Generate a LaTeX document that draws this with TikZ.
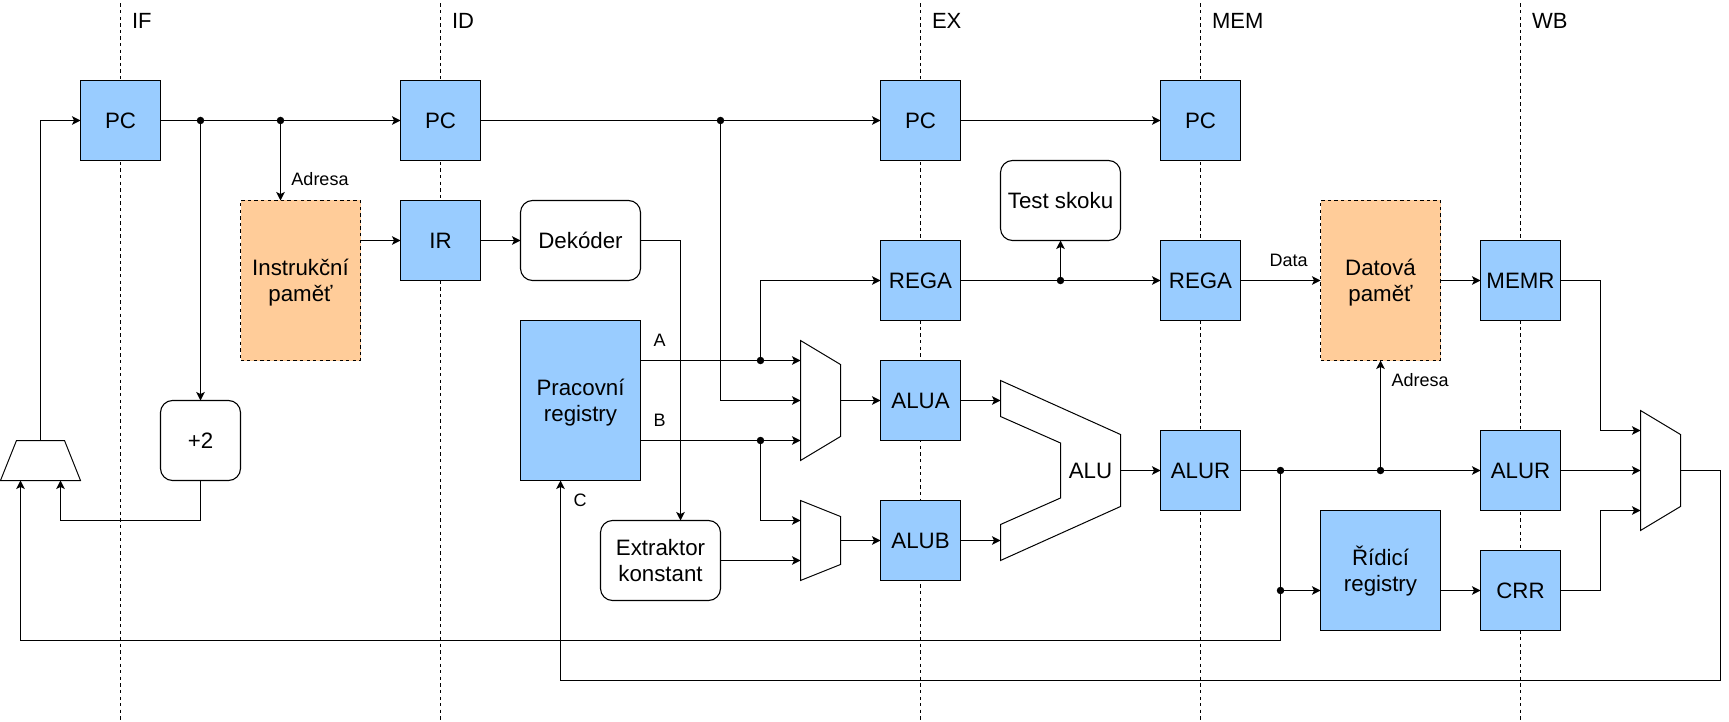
\documentclass[tikz,border=0pt]{standalone}
\usepackage{fontspec}
\setmainfont{Liberation Sans}
\usetikzlibrary{arrows.meta,calc}
\definecolor{regblue}{HTML}{99CCFF}
\definecolor{memorange}{HTML}{FFCC99}
\newcommand{\TwoL}[2]{\rule{0pt}{21.4pt}#1\\#2\rule[-6pt]{0pt}{6pt}}
\tikzset{
  basebox/.style={draw=black,line width=1.1pt,inner sep=0pt,outer sep=0pt,align=center,font=\fontsize{22.3}{26}\selectfont},
  one/.style={text height=16pt,text depth=0pt},
  reg/.style={basebox,one,fill=regblue,minimum width=80pt,minimum height=80pt},
  bigreg/.style={basebox,fill=regblue,minimum width=120pt},
  mem/.style={basebox,fill=memorange,dash pattern=on 3.3pt off 3.3pt,minimum width=120pt,minimum height=160pt},
  logic/.style={basebox,rounded corners=12pt,minimum height=80pt,fill=white},
  ghost/.style={inner sep=0pt,outer sep=0pt,align=center,font=\fontsize{22.3}{26}\selectfont,one},
  small/.style={inner sep=0pt,outer sep=0pt,font=\fontsize{18}{21}\selectfont,text height=13pt,text depth=0pt},
  stage/.style={inner sep=0pt,outer sep=0pt,font=\fontsize{22}{26}\selectfont,anchor=base west},
  dot/.style={circle,fill=black,draw=none,minimum size=7.5pt,inner sep=0pt,outer sep=0pt},
  wire/.style={line width=1.1pt,draw=black},
  arr/.style={wire,-{Stealth[length=8.5pt,width=8.5pt,inset=2pt]}},
  shapeline/.style={line width=1pt,draw=black},
  stageline/.style={line width=1pt,draw=black,dash pattern=on 3.3pt off 3.3pt},
}
\begin{document}
\begin{tikzpicture}[x=1pt,y=-1pt]
\useasboundingbox (-0.5,-0.5) rectangle (1728.5,721.5);
% stage lines
\foreach \n/\x in {if/120,id/440,ex/920,mem/1200,wb/1520}{
  \coordinate (\n T) at (\x,3);
  \coordinate (\n B) at (\x,722);
  \draw[stageline] (\n T) -- (\n B);
}
% stage labels
\node[stage] (lif) at (131.5,27.8) {IF};
\node[stage] (lid) at (451.5,27.8) {ID};
\node[stage] (lex) at (931.5,27.8) {EX};
\node[stage] (lmem) at (1211.5,27.8) {MEM};
\node[stage] (lwb) at (1531.5,27.8) {WB};
% registers
\node[reg] (pcA) at (120,120) {PC};
\node[reg] (pcB) at (440,120) {PC};
\node[reg] (pcC) at (920,120) {PC};
\node[reg] (pcD) at (1200,120) {PC};
\node[reg] (ir) at (440,240) {IR};
\node[reg] (regaA) at (920,280) {REGA};
\node[reg] (alua) at (920,400) {ALUA};
\node[reg] (alub) at (920,540) {ALUB};
\node[reg] (regaB) at (1200,280) {REGA};
\node[reg] (alurA) at (1200,470) {ALUR};
\node[reg] (memr) at (1520,280) {MEMR};
\node[reg] (alurB) at (1520,470) {ALUR};
\node[reg] (crr) at (1520,590) {CRR};
\node[bigreg,minimum height=160pt] (prac) at (580,400) {\TwoL{Pracovní}{registry}};
\node[bigreg,minimum height=120pt] (ridi) at (1380,570) {\TwoL{Řídicí}{registry}};
% memories
\node[mem] (imem) at (300,280) {\TwoL{Instrukční}{paměť}};
\node[mem] (dmem) at (1380,280) {\TwoL{Datová}{paměť}};
% logic
\node[logic,one,minimum width=80pt] (plus) at (200,440) {+2};
\node[logic,one,minimum width=120pt] (dek) at (580,240) {Dekóder};
\node[logic,minimum width=120pt] (ext) at (660,560) {\TwoL{Extraktor}{konstant}};
\node[logic,one,minimum width=120pt] (test) at (1060,200) {Test skoku};
% multiplexers and ALU
\node[inner sep=0pt,outer sep=0pt,minimum width=80pt,minimum height=40pt] (muxT) at (40,460) {};
\node[inner sep=0pt,outer sep=0pt,minimum width=40pt,minimum height=120pt] (muxA) at (820,400) {};
\node[inner sep=0pt,outer sep=0pt,minimum width=40pt,minimum height=80pt] (muxB) at (820,540) {};
\node[inner sep=0pt,outer sep=0pt,minimum width=40pt,minimum height=120pt] (muxC) at (1660,470) {};
\draw[shapeline] (0,480) -- (16,440) -- (64,440) -- (80,480) -- cycle;
\draw[shapeline] (800,340) -- (840,364) -- (840,436) -- (800,460) -- cycle;
\draw[shapeline] (800,500) -- (840,516) -- (840,564) -- (800,580) -- cycle;
\draw[shapeline] (1640,410) -- (1680,434) -- (1680,506) -- (1640,530) -- cycle;
\draw[shapeline] (1000,380) -- (1120,434) -- (1120,506) -- (1000,560) -- (1000,524) -- (1060,497.5) -- (1060,442.5) -- (1000,416) -- cycle;
\node[ghost] (alu) at (1090,470) {ALU};
\coordinate (aluIa) at (1000,400);
\coordinate (aluIb) at (1000,540);
\coordinate (aluO) at (1120,470);
% small labels
\node[small] (ladrA) at (319.5,179) {Adresa};
\node[small] (la) at (659,339) {A};
\node[small] (lb) at (659,419) {B};
\node[small] (lc) at (579.5,499) {C};
\node[small] (ldata) at (1288,259) {Data};
\node[small] (ladrB) at (1419.5,379) {Adresa};
% junctions
\node[dot] (j1) at (200,120) {};
\node[dot] (j2) at (280,120) {};
\node[dot] (j3) at (720,120) {};
\node[dot] (j4) at (760,360) {};
\node[dot] (j5) at (760,440) {};
\node[dot] (j6) at (1060,280) {};
\node[dot] (j7) at (1280,470) {};
\node[dot] (j8) at (1380,470) {};
\node[dot] (j9) at (1280,590) {};
% port coordinates
\coordinate (muxTa) at (20,480);
\coordinate (muxTb) at (60,480);
\coordinate (muxAa) at (800,360);
\coordinate (muxAc) at (800,440);
\coordinate (muxBa) at (800,520);
\coordinate (muxBb) at (800,560);
\coordinate (muxCa) at (1640,430);
\coordinate (muxCc) at (1640,510);
\coordinate (immIn) at (280,200);
\coordinate (extIn) at (680,520);
\coordinate (pracIn) at (560,480);
\coordinate (pracA) at (640,360);
\coordinate (pracB) at (640,440);
\coordinate (busF) at (1280,640);
\coordinate (busW) at (1720,680);
\coordinate (plusB) at (200,520);
% connectors
\draw[arr] (muxT.north) |- (pcA.west);
\draw[wire] (pcA.east) -- (j1.center);
\draw[wire] (j1.center) -- (j2.center);
\draw[arr] (j2.center) -- (pcB.west);
\draw[arr] (j1.center) -- (plus.north);
\draw[arr] (j2.center) -- (immIn);
\draw[arr] (imem.east |- ir.west) -- (ir.west);
\draw[arr] (ir.east) -- (dek.west);
\draw[arr] (plus.south) -- (plusB) -| (muxTb);
\draw[wire] (pcB.east) -- (j3.center);
\draw[arr] (j3.center) -- (pcC.west);
\draw[arr] (pcC.east) -- (pcD.west);
\draw[arr] (j3.center) |- (muxA.west);
\draw[arr] (dek.east) -| (extIn);
\draw[wire] (pracA) -- (j4.center);
\draw[arr] (j4.center) -- (muxAa);
\draw[arr] (j4.center) |- (regaA.west);
\draw[wire] (pracB) -- (j5.center);
\draw[arr] (j5.center) -- (muxAc);
\draw[arr] (j5.center) |- (muxBa);
\draw[arr] (ext.east) -- (muxBb);
\draw[arr] (muxA.east) -- (alua.west);
\draw[arr] (muxB.east) -- (alub.west);
\draw[arr] (alua.east) -- (aluIa);
\draw[arr] (alub.east) -- (aluIb);
\draw[arr] (aluO) -- (alurA.west);
\draw[wire] (regaA.east) -- (j6.center);
\draw[arr] (j6.center) -- (regaB.west);
\draw[arr] (j6.center) -- (test.south);
\draw[arr] (regaB.east) -- (dmem.west |- regaB.east);
\draw[arr] (dmem.east |- memr.west) -- (memr.west);
\draw[wire] (alurA.east) -- (j7.center);
\draw[wire] (j7.center) -- (j8.center);
\draw[arr] (j8.center) -- (alurB.west);
\draw[arr] (j8.center) -- (dmem.south);
\draw[wire] (j7.center) -- (j9.center);
\draw[arr] (j9.center) -- (ridi.west |- j9.center);
\draw[arr] (ridi.east |- crr.west) -- (crr.west);
\draw[arr] (memr.east) -- ++(40,0) |- (muxCa);
\draw[arr] (alurB.east) -- (muxC.west);
\draw[arr] (crr.east) -- ++(40,0) |- (muxCc);
\draw[arr] (j9.center) -- (busF) -| (muxTa);
\draw[arr] (muxC.east) -| (busW) -| (pracIn);
\end{tikzpicture}
\end{document}
